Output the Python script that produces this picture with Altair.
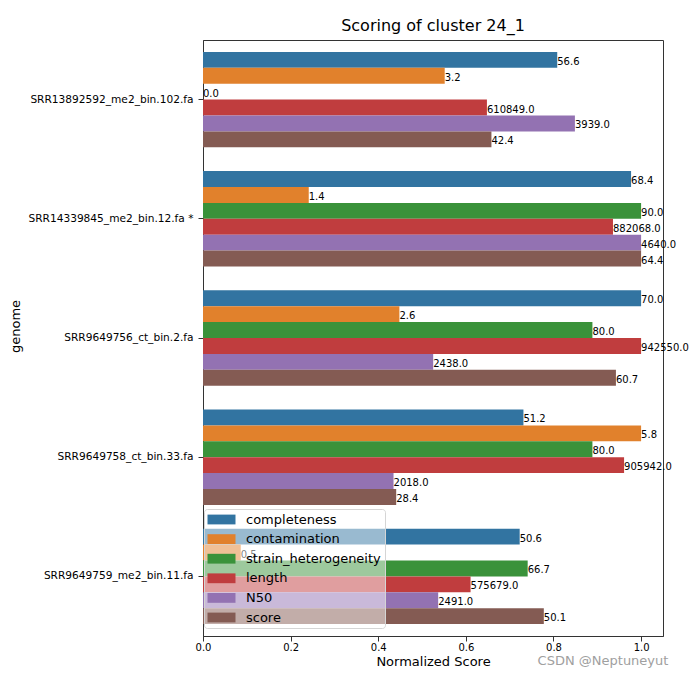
import altair as alt
import pandas as pd

genomes = [
    "SRR13892592_me2_bin.102.fa",
    "SRR14339845_me2_bin.12.fa *",
    "SRR9649756_ct_bin.2.fa",
    "SRR9649758_ct_bin.33.fa",
    "SRR9649759_me2_bin.11.fa",
]
metrics = ["completeness", "contamination", "strain_heterogeneity", "length", "N50", "score"]
completeness = [56.6, 68.4, 70.0, 51.2, 50.6]
contamination = [3.2, 1.4, 2.6, 5.8, 0.5]
strain_heterogeneity = [0.0, 90.0, 80.0, 80.0, 66.7]
length = [610849.0, 882068.0, 942550.0, 905942.0, 575679.0]
n50 = [3939.0, 4640.0, 2438.0, 2018.0, 2491.0]
score = [42.4, 64.4, 60.7, 28.4, 50.1]
colors = ["#3274a1", "#e1812c", "#3a923a", "#c03d3e", "#9372b2", "#845b53"]
watermark = ["CSDN @Neptuneyut"]

series = [completeness, contamination, strain_heterogeneity, length, n50, score]
rows = []
for m, vals in zip(metrics, series):
    for g, v in zip(genomes, vals):
        rows.append({"genome": g, "metric": m, "value": v})
df = pd.DataFrame(rows)

FONT = "DejaVu Sans"
FRAME = "#333333"

base = alt.Chart(df).transform_joinaggregate(
    maxv="max(value)", groupby=["metric"]
).transform_calculate(norm="datum.value / datum.maxv")

y_enc = alt.Y(
    "genome:N",
    sort=genomes,
    scale=alt.Scale(paddingInner=0.2, paddingOuter=0.1),
    axis=alt.Axis(
        title="genome",
        labelFontSize=10.6,
        tickSize=5,
        labelPadding=5,
        titleX=-188,
        titleY=286,
        titleAngle=270,
        titleBaseline="middle",
        titleAlign="center",
    ),
)
yoff_enc = alt.YOffset("metric:N", sort=metrics, scale=alt.Scale(paddingInner=0, paddingOuter=0))
x_enc = alt.X(
    "norm:Q",
    scale=alt.Scale(domain=[0, 1.05], nice=False, zero=True),
    axis=alt.Axis(
        title="Normalized Score",
        values=[0, 0.2, 0.4, 0.6, 0.8, 1.0],
        format=".1f",
        labelFontSize=10,
        tickSize=5,
        labelPadding=1.5,
        labelFlush=False,
        titlePadding=3,
    ),
)

bars = base.mark_bar().encode(
    y=y_enc,
    yOffset=yoff_enc,
    x=x_enc,
    color=alt.Color(
        "metric:N",
        sort=metrics,
        scale=alt.Scale(domain=metrics, range=colors),
        legend=alt.Legend(
            title=None,
            orient="none",
            legendX=1,
            legendY=469,
            zindex=1,
            fillColor="rgba(255,255,255,0.5)",
            strokeColor="#d5d5d5",
            cornerRadius=3,
            padding=3.5,
            symbolType="M-1,-0.7L3,-0.7L3,0.7L-1,0.7Z",
            symbolSize=196,
            symbolStrokeWidth=0,
            symbolOpacity=1,
            labelFontSize=13,
            labelFont=FONT,
            labelColor="black",
            labelOffset=24.5,
            rowPadding=5.6,
        ),
    ),
)

labels = base.mark_text(
    align="left", baseline="middle", fontSize=10, font=FONT, color="black", dy=2
).encode(
    y=alt.Y("genome:N", sort=genomes),
    yOffset=alt.YOffset("metric:N", sort=metrics),
    x="norm:Q",
    text=alt.Text("value:Q", format=".1f"),
)

wm = alt.Chart(pd.DataFrame({"t": watermark})).mark_text(
    align="center", baseline="middle", fontSize=13, font=FONT, color="#a0a0a0"
).encode(text="t:N", x=alt.value(400), y=alt.value(621))

chart = alt.layer(bars, labels, wm).properties(
    width=460,
    height=596,
    title=alt.TitleParams(
        "Scoring of cluster 24_1", fontSize=16, font=FONT, fontWeight="normal", offset=6, anchor="middle"
    ),
    autosize=alt.AutoSizeParams(type="none"),
    padding={"left": 203, "top": 40, "right": 26, "bottom": 42},
).configure_view(
    stroke=FRAME, strokeWidth=1
).configure_axis(
    grid=False,
    labelFont=FONT,
    titleFont=FONT,
    labelColor="black",
    titleColor="black",
    titleFontSize=13,
    titleFontWeight="normal",
    tickColor=FRAME,
    domainColor=FRAME,
)

chart.save("out.html", embed_options={"renderer": "svg", "actions": False})
